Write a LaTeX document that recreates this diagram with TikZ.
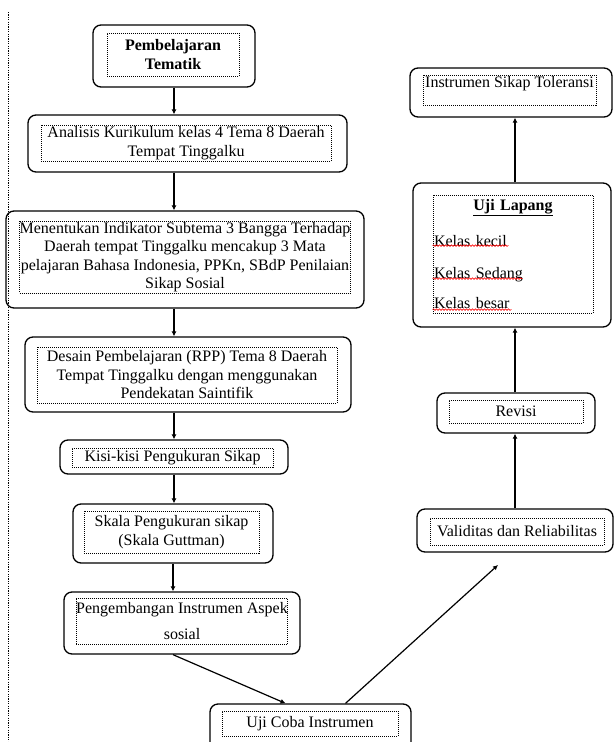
\documentclass[tikz,border=0pt]{standalone}
\usepackage{fontspec}
\setmainfont{Liberation Serif}
\usetikzlibrary{arrows.meta, decorations.pathmorphing}

\newcommand\bodyfont{\fontsize{16}{18.5}\selectfont}

\begin{document}
\begin{tikzpicture}[x=1pt, y=-1pt,
    outerbox/.style={draw, line width=1.3pt, rounded corners=8pt, inner sep=0pt},
    innerbox/.style={draw, line width=0.8pt, dash pattern=on 1pt off 1pt,
      inner sep=0pt, align=center, font=\bodyfont},
    arr/.style={line width=1.2pt, -{Latex[length=5pt,width=5pt]}},
    squig/.style={red, line width=0.6pt, decorate,
      decoration={snake, segment length=3pt, amplitude=0.8pt}}]
  \clip (0,0) rectangle (614,742);

  % dotted margin line
  \coordinate (top) at (8.5,12);
  \coordinate (bot) at (8.5,742);
  \draw[line width=1.2pt, dash pattern=on 1.2pt off 1.2pt] (top) -- (bot);

  % left column
  \node[outerbox, minimum width=162pt, minimum height=62pt] (pt) at (174,56) {};
  \node[innerbox, minimum width=132pt, minimum height=43pt, font=\bodyfont\bfseries] (ptx) at (173,54.5)
    {Pembelajaran\\Tematik};

  \node[outerbox, minimum width=319pt, minimum height=57pt] (ak) at (187.5,143.5) {};
  \node[innerbox, minimum width=290pt, minimum height=36pt] (akx) at (186,143)
    {Analisis Kurikulum kelas 4 Tema 8 Daerah\\Tempat Tinggalku};

  \node[outerbox, minimum width=358pt, minimum height=97pt] (mi) at (185,259.5) {};
  \node[innerbox, minimum width=326pt, minimum height=72pt] (mix) at (185,257)
    {Menentukan Indikator  Subtema 3 Bangga Terhadap\\Daerah tempat Tinggalku mencakup 3 Mata\\
     pelajaran Bahasa Indonesia, PPKn, SBdP Penilaian\\Sikap Sosial};

  \node[outerbox, minimum width=326pt, minimum height=75pt] (ds) at (188,374.5) {};
  \node[innerbox, minimum width=300pt, minimum height=56pt] (dsx) at (187,375)
    {Desain Pembelajaran (RPP) Tema 8 Daerah\\Tempat Tinggalku dengan menggunakan\\Pendekatan Saintifik};

  \node[outerbox, minimum width=228pt, minimum height=34pt] (ks) at (174,457) {};
  \node[innerbox, minimum width=201pt, minimum height=19pt] (ksx) at (172.5,457.5)
    {Kisi-kisi Pengukuran Sikap};

  \node[outerbox, minimum width=200pt, minimum height=59pt] (sk) at (173,533.5) {};
  \node[innerbox, minimum width=175pt, minimum height=42pt] (skx) at (171.5,532)
    {Skala Pengukuran sikap\\(Skala Guttman)};

  \node[outerbox, minimum width=236pt, minimum height=62pt] (pi) at (182,623) {};
  \node[innerbox, minimum width=210pt, minimum height=46pt] (pix) at (182,621)
    {Pengembangan Instrumen Aspek\\[7pt]sosial};

  \node[outerbox, minimum width=201pt, minimum height=48pt] (uc) at (310.5,728) {};
  \node[innerbox, minimum width=176pt, minimum height=25pt] (ucx) at (310,723.5)
    {Uji Coba Instrumen};

  % right column
  \node[outerbox, minimum width=202pt, minimum height=49pt] (tl) at (511,92.5) {};
  \node[innerbox, minimum width=173pt, minimum height=30pt, text depth=16pt] (tlx) at (509.5,90)
    {Instrumen Sikap Toleransi};

  \node[outerbox, minimum width=198pt, minimum height=144pt] (ul) at (512,255) {};
  \node[innerbox, minimum width=160pt, minimum height=118pt, text width=158pt, align=left] (ulx) at (513,254)
    {\makebox[158pt]{\underline{\textbf{Uji Lapang}}}\\[18pt]
     Kelas kecil\\[13pt]
     Kelas Sedang\\[12pt]
     Kelas besar};
  \draw[squig] ([shift={(0,51)}]ulx.north west) -- ++(76,0);
  \draw[squig] ([shift={(0,84)}]ulx.north west) -- ++(90,0);
  \draw[squig] ([shift={(0,115)}]ulx.north west) -- ++(79,0);

  \node[outerbox, minimum width=158pt, minimum height=40pt] (rv) at (516,413) {};
  \node[innerbox, minimum width=134pt, minimum height=23pt] (rvx) at (516,411.5) {Revisi};

  \node[outerbox, minimum width=196pt, minimum height=43pt] (vd) at (515,530.5) {};
  \node[innerbox, minimum width=174pt, minimum height=27pt] (vdx) at (517,531.5)
    {Validitas dan Reliabilitas};

  \coordinate (vr) at (498,565);

  % arrows
  \draw[arr] (pt.south) -- (pt.south |- ak.north);
  \draw[arr] (ak.south -| pt.south) -- (pt.south |- mi.north);
  \draw[arr] (mi.south -| pt.south) -- (pt.south |- ds.north);
  \draw[arr] (ds.south -| pt.south) -- (pt.south |- ks.north);
  \draw[arr] (ks.south) -- (ks.south |- sk.north);
  \draw[arr] (sk.south) -- (sk.south |- pi.north);
  \draw[arr] (pi.south -| sk.south) -- ([xshift=-25pt]uc.north);
  \draw[arr] ([xshift=35pt]uc.north) -- (vr);
  \draw[arr] (vd.north) -- (vd.north |- rv.south);
  \draw[arr] (rv.north -| vd.north) -- (vd.north |- ul.south);
  \draw[arr] (ul.north -| vd.north) -- (vd.north |- tl.south);
\end{tikzpicture}
\end{document}
